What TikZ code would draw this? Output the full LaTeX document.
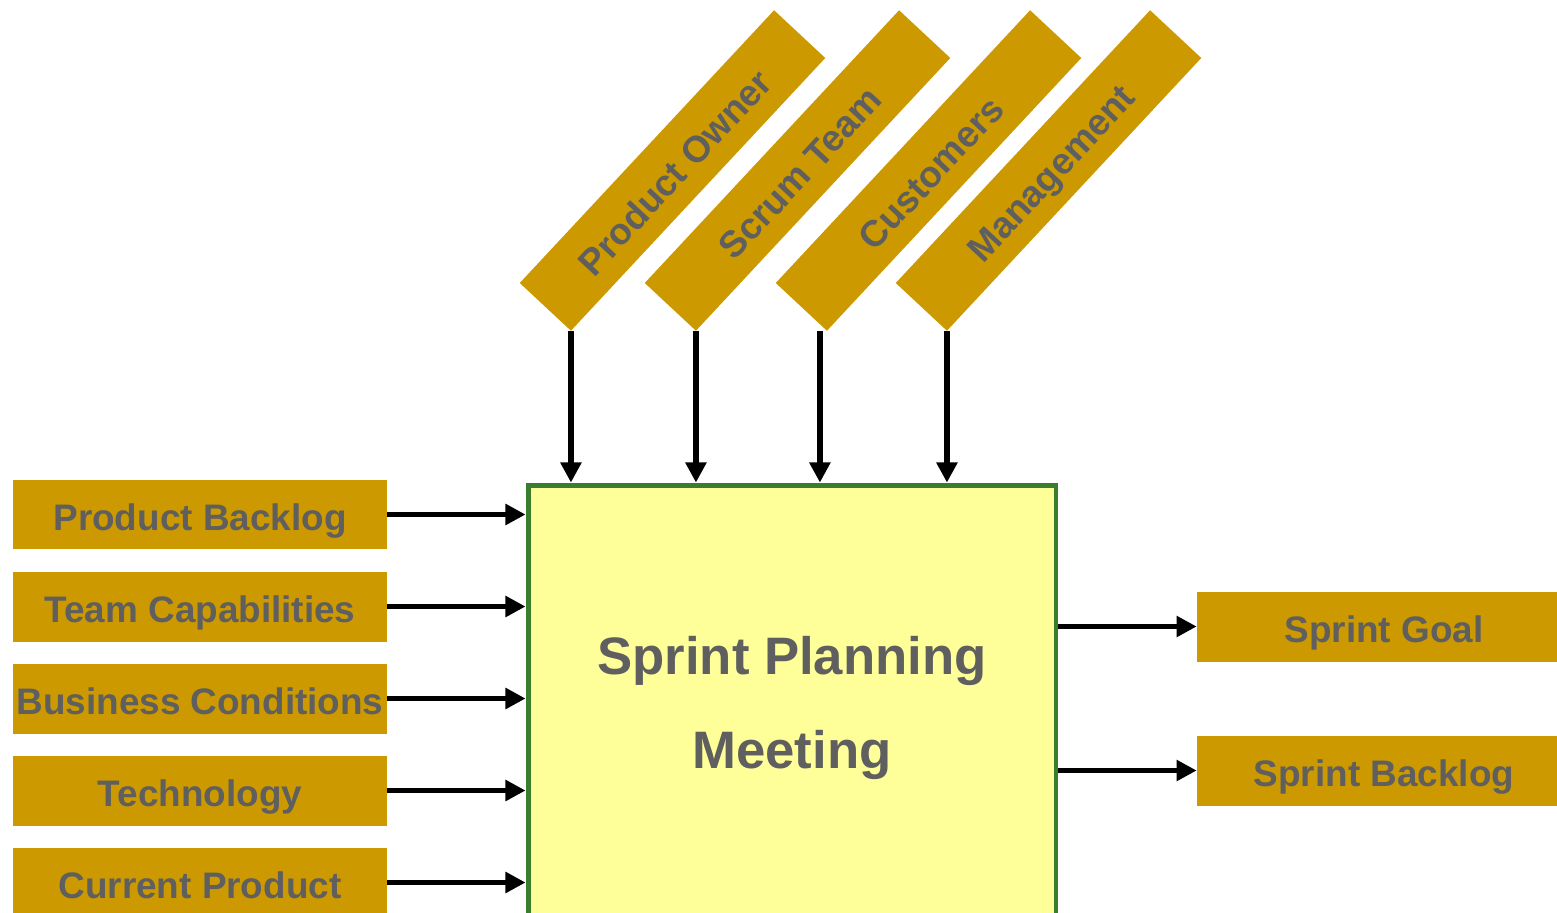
\documentclass[tikz,border=0pt]{standalone}
\usepackage{fontspec}
\setmainfont{Liberation Sans}
\usetikzlibrary{arrows.meta}
\definecolor{boxgold}{HTML}{CC9900}
\definecolor{labelgray}{HTML}{5F5F5F}
\definecolor{paleyellow}{HTML}{FFFF99}
\definecolor{meetgreen}{HTML}{3A7D2E}
\begin{document}
\begin{tikzpicture}[x=0.02cm,y=-0.02cm,
  item/.style={fill=boxgold, text=labelgray,
    font=\fontsize{21}{25}\selectfont\bfseries,
    text height=18.5pt, text depth=0pt,
    minimum width=7.48cm, minimum height=1.4cm, inner sep=0pt},
  role/.style={item, minimum width=7.46cm, rotate=47},
  flow/.style={line width=3pt, -{Triangle[length=11.5pt,width=11.5pt]}}]
\clip (0,0) rectangle (1557,912);

% central meeting box (runs past the lower edge)
\node[draw=meetgreen, line width=2.8pt, fill=paleyellow,
  minimum width=10.56cm, minimum height=9.1cm, inner sep=0pt] (spm) at (792,712.5) {};
\node[text=labelgray, font=\fontsize{30}{54}\selectfont\bfseries, align=center]
  (spmlabel) at (792,708) {Sprint Planning\\Meeting};

% inputs on the left
\node[item] (pb) at (200,514.5) {Product Backlog};
\node[item] (tc) at (200,606.5) {Team Capabilities};
\node[item] (bc) at (200,698.5) {Business Conditions};
\node[item] (te) at (200,790.5) {Technology};
\node[item] (cp) at (200,882.5) {Current Product};

% participants on top
\node[role] (po) at (672.5,170.5) {Product Owner};
\node[role] (st) at (797.5,170.5) {Scrum Team};
\node[role] (cu) at (928.5,170.5) {Customers};
\node[role] (mg) at (1048.5,170.5) {Management};

% outputs on the right
\node[item] (sg) at (1384,626.5) {Sprint Goal};
\node[item] (sb) at (1384,770.5) {Sprint Backlog};

% connectors
\foreach \n in {pb,tc,bc,te,cp}
  \draw[flow] (\n.east) -- (spm.west |- \n.east);
\foreach \n in {po,st,mg}
  \draw[flow] (\n.south west) -- (\n.south west |- spm.north);
\draw[flow] ([xshift=-4pt]cu.south west) -- ([xshift=-4pt]cu.south west |- spm.north);
\foreach \n in {sg,sb}
  \draw[flow] (spm.east |- \n.west) -- (\n.west);
\end{tikzpicture}
\end{document}
